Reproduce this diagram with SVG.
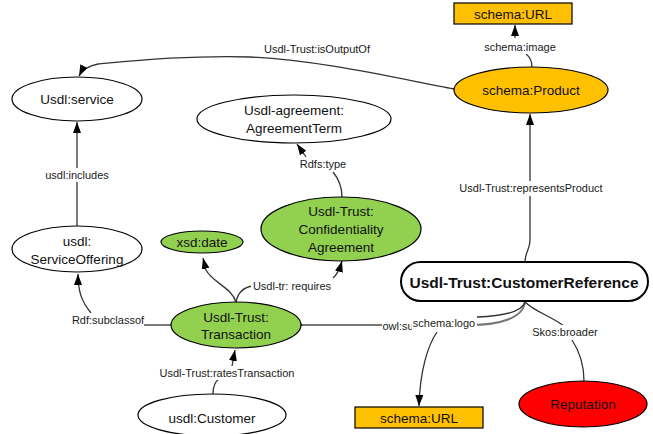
<svg xmlns="http://www.w3.org/2000/svg" width="653" height="434" viewBox="0 0 653 434">
<defs>
<style>
.n{stroke:#000;stroke-width:1.2}
.w{fill:#fff}.g{fill:#92D050}.o{fill:#FFC000}.r{fill:#FF0000}
.t{font-family:"Liberation Sans",Arial,sans-serif;font-size:13.5px;fill:#111;text-anchor:middle;dominant-baseline:central}
.b{font-weight:bold;font-size:15.5px}
.l{font-family:"Liberation Sans",Arial,sans-serif;font-size:11px;fill:#1a1a1a;text-anchor:middle;dominant-baseline:central}
.e{fill:none;stroke:#333;stroke-width:1.3}
.bg{fill:#fff}
</style>
<marker id="a" viewBox="0 0 11 8" refX="11" refY="4" markerWidth="11" markerHeight="8" markerUnits="userSpaceOnUse" orient="auto">
<path d="M0,0 L11,4 L0,8 z" fill="#000"/>
</marker>
<marker id="v" viewBox="0 0 8 10" refX="1" refY="5" markerWidth="8" markerHeight="10" markerUnits="userSpaceOnUse" orient="auto">
<path d="M7,0 L1,5 L7,10" fill="none" stroke="#444" stroke-width="1.2"/>
</marker>
</defs>
<rect width="653" height="434" fill="#fff"/>
<g id="connectors">
<path class="e" d="M454,89 C400,79 320,60 250,57 C180,55 120,62 98,64 C88,66 82,70 79,76" marker-end="url(#a)"/>
<path class="e" d="M532,67 C532,60 530,57 526,54"/>
<path class="e" d="M515,38 L515,25" marker-end="url(#a)"/>
<path class="e" d="M525,262 C525,252 530,250 530,240 L530,114" marker-end="url(#a)"/>
<path class="e" d="M77,226 L77,122" marker-end="url(#a)"/>
<path class="e" d="M171,325 L143,325"/>
<path class="e" d="M91,313 C82,302 78,292 78,274" marker-end="url(#a)"/>
<path class="e" d="M342,197 C342,185 338,178 333,172"/>
<path class="e" d="M306,157 L297,144" marker-end="url(#a)"/>
<path class="e" d="M236,302 C232,288 212,282 206,270 L203,258" marker-end="url(#a)"/>
<path class="e" d="M236,302 C238,292 244,287 253,286"/>
<path class="e" d="M333,278 C338,274 340,268 342,261" marker-end="url(#a)"/>
<path d="M525,302 C523,318 500,325 470,325 L302,325" fill="none" stroke="#777" stroke-width="2" marker-end="url(#v)"/>
<path class="e" d="M525,302 C522,312 505,316 477,317"/>
<path class="e" d="M437,332 C428,345 420,370 419,406" marker-end="url(#a)"/>
<path class="e" d="M525,302 C535,312 555,318 565,327"/>
<path class="e" d="M572,340 C580,352 584,365 584,381"/>
<path class="e" d="M213,394 C213,385 216,381 219,379"/>
<path class="e" d="M232,366 L235,350" marker-end="url(#a)"/>
<rect class="bg" x="246" y="42" width="142" height="14"/>
<text class="l" x="317" y="49">Usdl-Trust:isOutputOf</text>
<rect class="bg" x="484" y="40" width="72" height="14"/>
<text class="l" x="520" y="47">schema:image</text>
<rect class="bg" x="457" y="181" width="148" height="15"/>
<text class="l" x="531" y="188">Usdl-Trust:representsProduct</text>
<rect class="bg" x="44" y="168" width="67" height="14"/>
<text class="l" x="77" y="175">usdl:includes</text>
<rect class="bg" x="72" y="313" width="72" height="14"/>
<text class="l" x="108" y="320">Rdf:subclassof</text>
<rect class="bg" x="298" y="157" width="50" height="14"/>
<text class="l" x="323" y="164">Rdfs:type</text>
<rect class="bg" x="251" y="279" width="83" height="14"/>
<text class="l" x="292" y="286">Usdl-tr: requires</text>
<rect class="bg" x="382" y="319" width="32" height="14"/>
<text class="l" x="398" y="326">owl:su</text>
<rect class="bg" x="412" y="316" width="65" height="14"/>
<text class="l" x="444" y="323">schema:logo</text>
<rect class="bg" x="532" y="325" width="67" height="14"/>
<text class="l" x="565" y="332">Skos:broader</text>
<rect class="bg" x="158" y="366" width="139" height="14"/>
<text class="l" x="227" y="373">Usdl-Trust:ratesTransaction</text>
</g>
<g id="url-top"><rect class="n o" x="454" y="3" width="118" height="21"/><text class="t" x="513" y="14">schema:URL</text></g>
<g id="product"><ellipse class="n o" cx="531" cy="90" rx="77" ry="23"/><text class="t" x="531" y="90">schema:Product</text></g>
<g id="service"><ellipse class="n w" cx="77" cy="99" rx="65" ry="22"/><text class="t" x="77" y="99">Usdl:service</text></g>
<g id="agreementterm"><ellipse class="n w" cx="294" cy="119" rx="97" ry="24"/><text class="t" x="294" y="110">Usdl-agreement:</text><text class="t" x="294" y="128">AgreementTerm</text></g>
<g id="confidentiality"><ellipse class="n g" cx="341" cy="229" rx="80" ry="32"/><text class="t" x="341" y="211">Usdl-Trust:</text><text class="t" x="341" y="229">Confidentiality</text><text class="t" x="341" y="247">Agreement</text></g>
<g id="xsddate"><ellipse class="n g" cx="202" cy="242" rx="41" ry="11"/><text class="t" x="202" y="242">xsd:date</text></g>
<g id="serviceoffering"><ellipse class="n w" cx="77" cy="249" rx="65" ry="23"/><text class="t" x="77" y="241">usdl:</text><text class="t" x="77" y="259">ServiceOffering</text></g>
<g id="transaction"><ellipse class="n g" cx="236" cy="325" rx="65" ry="23"/><text class="t" x="236" y="317">Usdl-Trust:</text><text class="t" x="236" y="334">Transaction</text></g>
<g id="customer"><ellipse class="n w" cx="212" cy="415" rx="74" ry="21"/><text class="t" x="212" y="418">usdl:Customer</text></g>
<g id="customerreference"><rect x="401" y="262" width="247" height="39" rx="19.5" fill="#fff" stroke="#000" stroke-width="2"/><text class="t b" x="524" y="282">Usdl-Trust:CustomerReference</text></g>
<g id="url-bottom"><rect class="n o" x="355" y="407" width="128" height="21"/><text class="t" x="419" y="418">schema:URL</text></g>
<g id="reputation"><ellipse class="n r" cx="583" cy="404" rx="64" ry="23"/><text class="t" x="583" y="404">Reputation</text></g>
</svg>
